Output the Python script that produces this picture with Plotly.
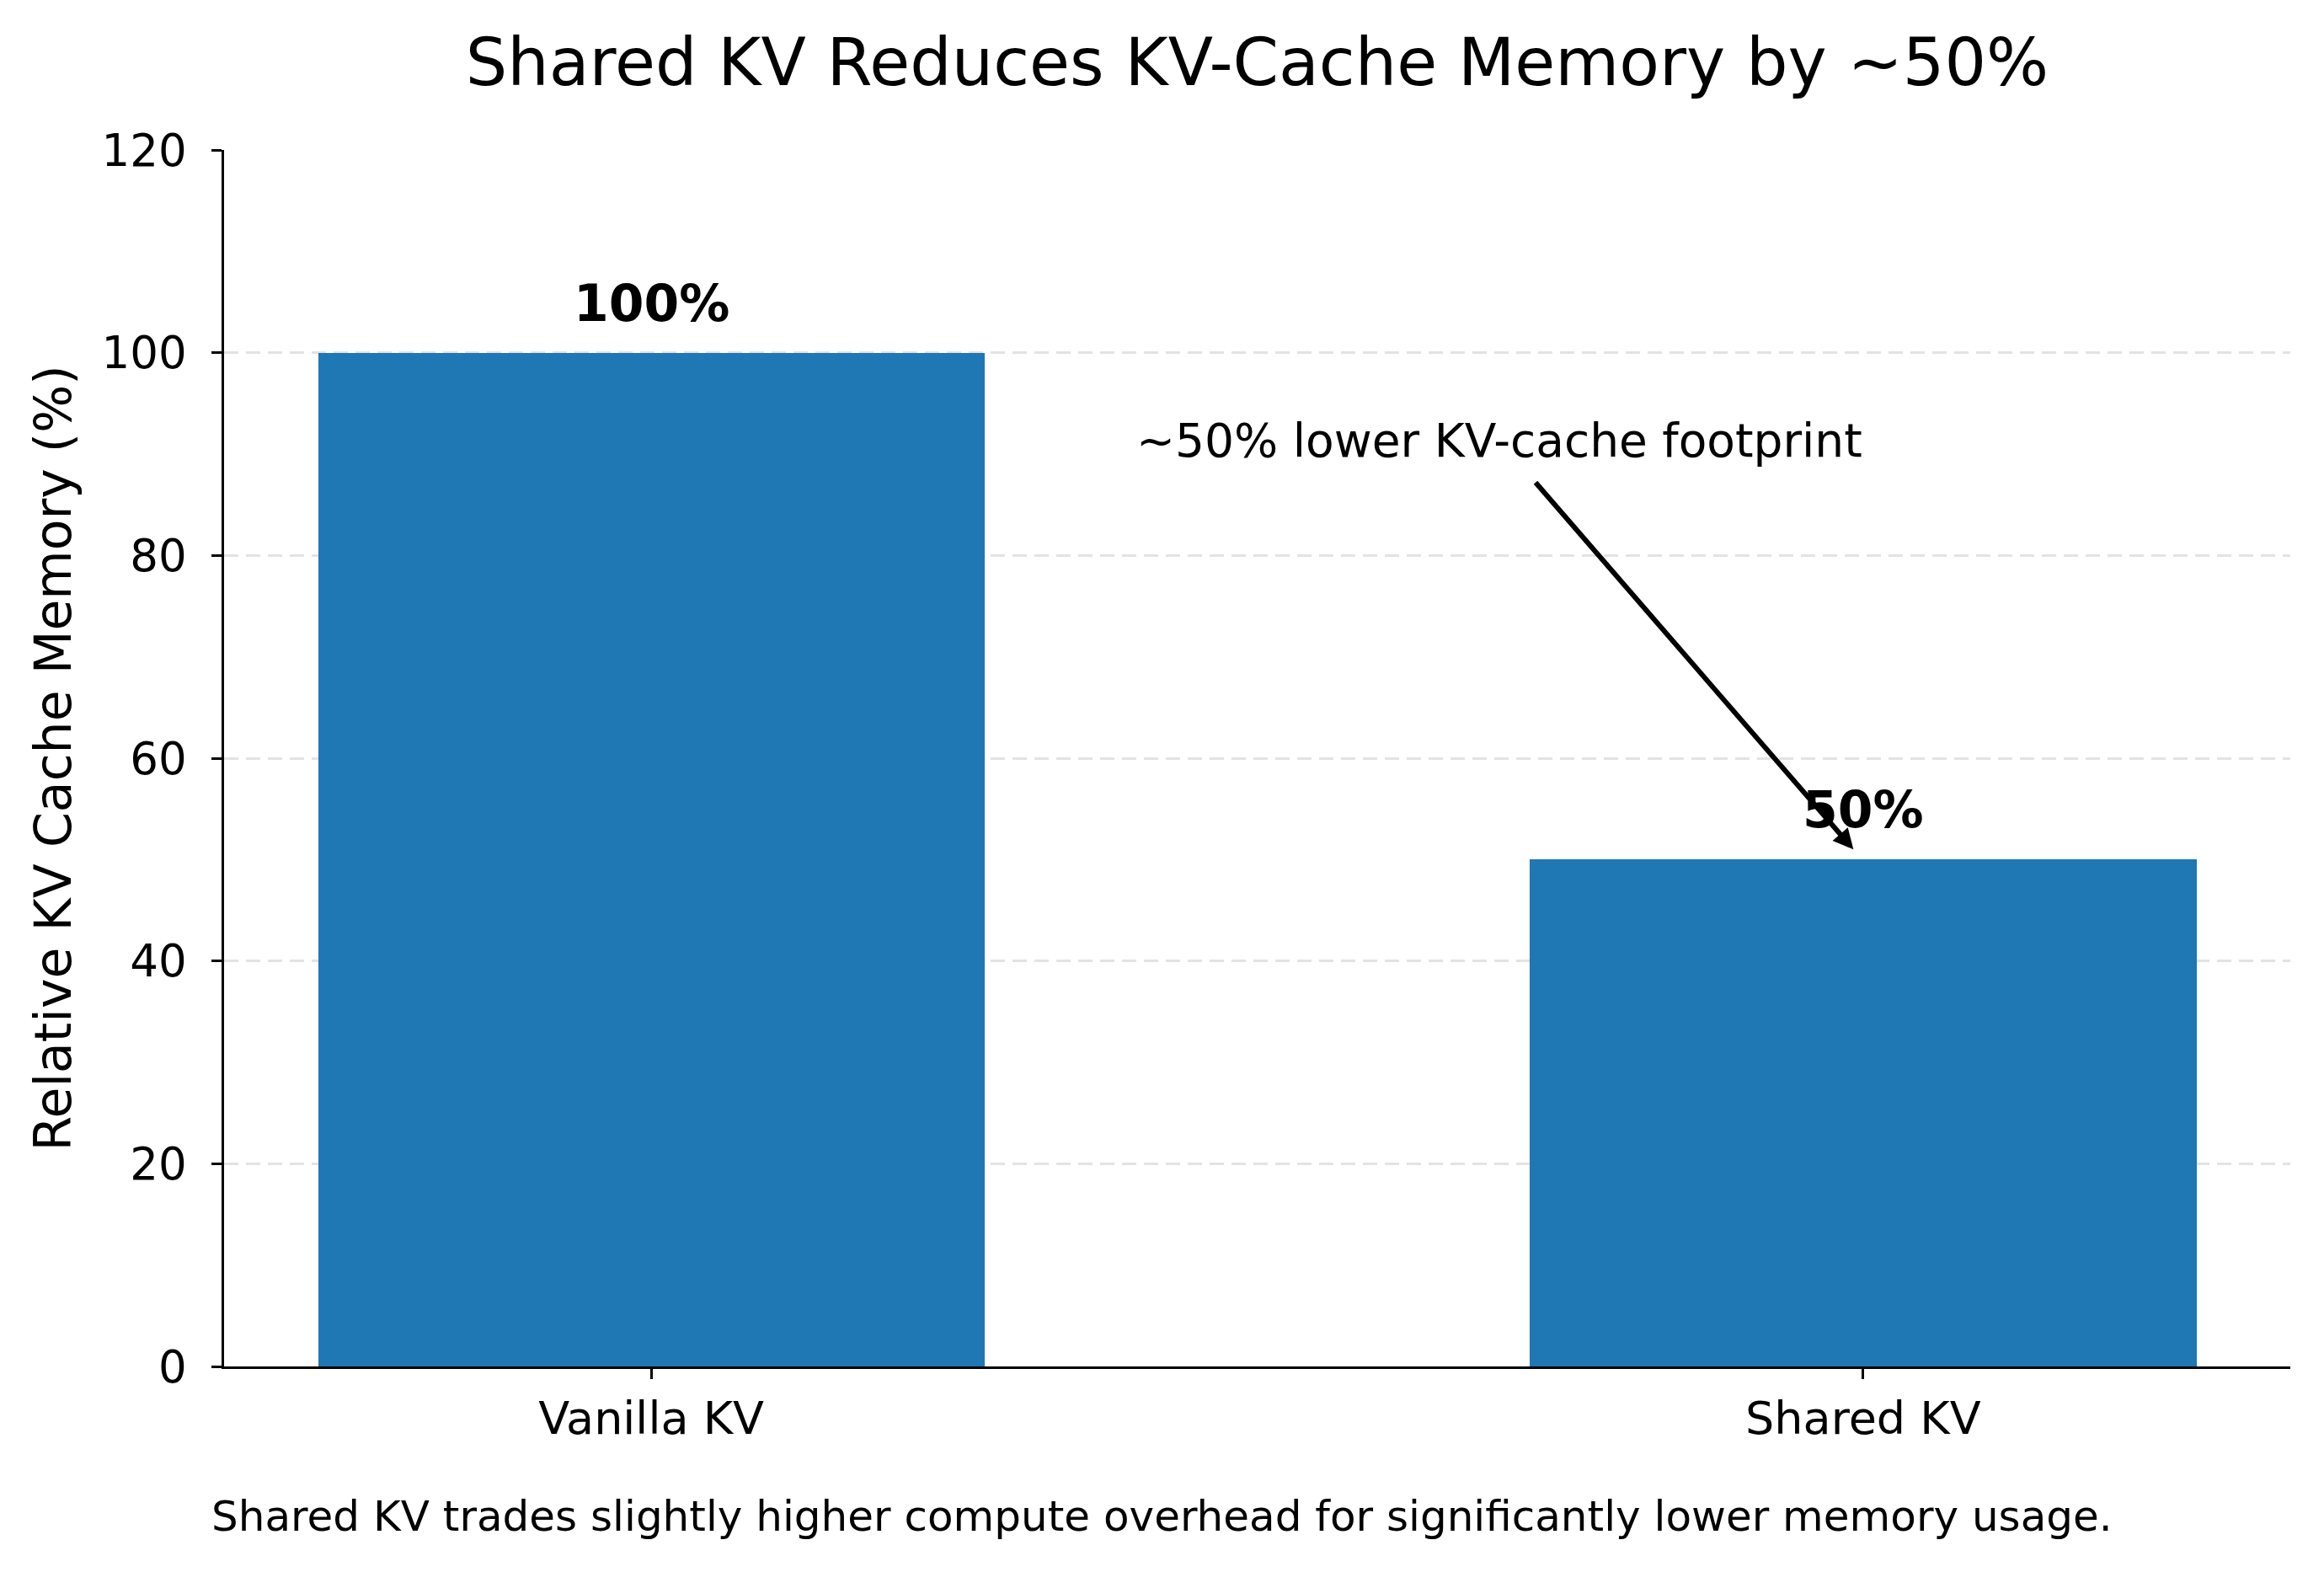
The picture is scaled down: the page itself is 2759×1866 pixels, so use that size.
import plotly.graph_objects as go

# chart data
categories = ["Vanilla KV", "Shared KV"]
memory_pct = [100, 50]
y_ticks = [0, 20, 40, 60, 80, 100, 120]

title = "Shared KV Reduces KV-Cache Memory by ~50%"
y_title = "Relative KV Cache Memory (%)"
note = "~50% lower KV-cache footprint"
caption = "Shared KV trades slightly higher compute overhead for significantly lower memory usage."

W, H = 2759, 1866
FONT = "DejaVu Sans"
BLUE = "#1f77b4"
OFF = 8  # browser body margin

xpos = list(range(len(categories)))

fig = go.Figure()
fig.add_trace(go.Bar(x=xpos, y=memory_pct, width=0.55, marker_color=BLUE,
                     marker_line_width=0, showlegend=False, hoverinfo="skip"))

# arrow note pointing at the shared bar
fig.add_annotation(x=0.992, y=51, ax=0.700, ay=91.3, axref="x", ayref="y",
                   text=note, showarrow=True, arrowhead=2, arrowsize=0.8,
                   arrowwidth=6, arrowcolor="black", startstandoff=21,
                   font=dict(family=FONT, size=55, color="black"))

# value labels above the bars
for xi, v in zip(xpos, memory_pct):
    fig.add_annotation(x=xi, y=v, text=f"<b>{v}%</b>", showarrow=False,
                       yanchor="bottom", yshift=22,
                       font=dict(family=FONT, size=60, color="black"))

# caption under the chart
fig.add_annotation(xref="paper", yref="paper", x=0.454, y=-0.1233,
                   text=caption, showarrow=False, xanchor="center", yanchor="middle",
                   font=dict(family=FONT, size=50, color="black"))

fig.update_layout(
    width=W, height=H,
    margin=dict(l=266 - OFF, r=40 + OFF, t=178 - OFF, b=244 + OFF),
    paper_bgcolor="white", plot_bgcolor="white",
    font=dict(family=FONT, color="black"),
    title=dict(text=title, x=0.5, xref="paper", y=1 - (74 - OFF) / H, yref="container",
               xanchor="center", yanchor="middle",
               font=dict(family=FONT, size=78, color="black")),
    bargap=0,
)
fig.update_xaxes(range=[-0.3525, 1.3525], tickvals=xpos, ticktext=categories,
                 showgrid=False, zeroline=False, showline=True, linecolor="black",
                 linewidth=2.5, ticks="outside", ticklen=12, tickwidth=2.5,
                 tickcolor="black", tickfont=dict(family=FONT, size=54))
fig.update_yaxes(range=[0, 120], tickvals=y_ticks, showgrid=True,
                 gridcolor="#e3e3e3", gridwidth=2.5, griddash="17px,9px",
                 zeroline=False, showline=True, linecolor="black", linewidth=2.5,
                 ticks="outside", ticklen=12, tickwidth=2.5, tickcolor="black",
                 ticklabelstandoff=19,
                 tickfont=dict(family=FONT, size=53),
                 title=dict(text=y_title, standoff=17,
                            font=dict(family=FONT, size=60)))

fig.write_html("out.html")
